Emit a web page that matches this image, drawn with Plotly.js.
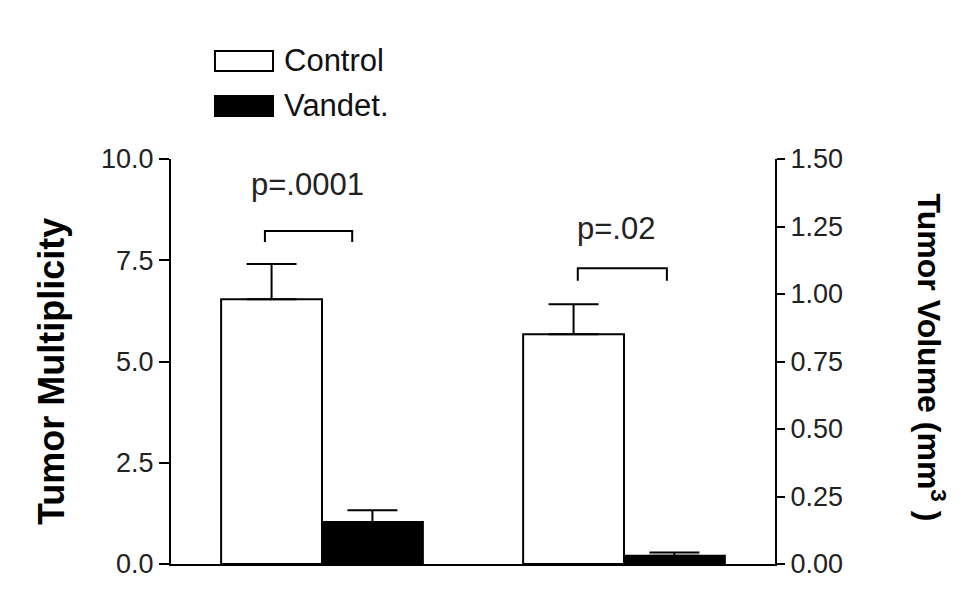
<!DOCTYPE html>
<html>
<head>
<meta charset="utf-8">
<script src="https://cdn.plot.ly/plotly-3.0.1.min.js"></script>
<style>html,body{margin:0;padding:0;background:#fff;}#chart{width:973px;height:600px;}</style>
</head>
<body>
<div id="chart"></div>
<script>
// ---- data ----
const groups = [0, 1];                 // 0: Tumor Multiplicity (left axis), 1: Tumor Volume (right axis)
const seriesNames = ["Control", "Vandet."];
const multControl = 6.54, multControlErr = 0.87;
const multVandet = 1.04, multVandetErr = 0.29;
const volControl = 0.851, volControlErr = 0.111;
const volVandet = 0.031, volVandetErr = 0.012;
const leftTicks = [0, 2.5, 5, 7.5, 10];
const rightTicks = [0, 0.25, 0.5, 0.75, 1, 1.25, 1.5];
const pLabels = ["p=.0001", "p=.02"];
// bracket definitions: [x0, x1, yTop, yDrop]
const bracket1 = [-0.189, 0.10, 8.22, 7.95];
const bracket2 = [0.847, 1.142, 1.095, 1.049];

const FONT = '"Liberation Sans", Arial, Helvetica, sans-serif';
const BW = 0.334;

function barTrace(name, x, y, err, yaxis, fill, offset) {
  return {
    type: 'bar', name: name, x: [x], y: [y], yaxis: yaxis,
    width: BW, offset: offset,
    marker: {color: fill, line: {color: '#000', width: 2}},
    error_y: {type: 'data', symmetric: false, array: [err], arrayminus: [0],
              color: '#000', thickness: 2, width: 25},
    showlegend: false, hoverinfo: 'skip'
  };
}

const traces = [
  barTrace(seriesNames[0], groups[0], multControl, multControlErr, 'y', '#fff', -BW),
  barTrace(seriesNames[1], groups[0], multVandet, multVandetErr, 'y', '#000', 0),
  barTrace(seriesNames[0], groups[1], volControl, volControlErr, 'y2', '#fff', -BW),
  barTrace(seriesNames[1], groups[1], volVandet, volVandetErr, 'y2', '#000', 0)
];

function bracketShape(b, yref) {
  return {type: 'path', xref: 'x', yref: yref,
    path: `M${b[0]},${b[3]} L${b[0]},${b[2]} L${b[1]},${b[2]} L${b[1]},${b[3]}`,
    line: {color: '#000', width: 2}};
}

const layout = {
  width: 973, height: 600,
  margin: {l: 171, r: 198, t: 159, b: 36, pad: 0},
  paper_bgcolor: '#fff', plot_bgcolor: '#fff',
  font: {family: FONT, color: '#111', size: 27},
  barmode: 'overlay',
  showlegend: false,
  xaxis: {range: [-0.5, 1.5], showline: true, linecolor: '#000', linewidth: 2,
          showticklabels: false, ticks: '', showgrid: false, zeroline: false, fixedrange: true},
  yaxis: {range: [0, 10], tickvals: leftTicks, tickformat: '.1f', ticks: 'outside', ticklen: 10,
          tickwidth: 2, tickcolor: '#000', showline: true, linecolor: '#000', linewidth: 2,
          showgrid: false, zeroline: false, tickfont: {size: 27, family: FONT, color: '#222'}},
  yaxis2: {range: [0, 1.5], tickvals: rightTicks, tickformat: '.2f', overlaying: 'y', side: 'right',
           ticks: 'outside', ticklen: 8, tickwidth: 2, tickcolor: '#000', showline: true,
           linecolor: '#000', linewidth: 2, showgrid: false, zeroline: false,
           tickfont: {size: 27, family: FONT, color: '#222'}},
  shapes: [
    bracketShape(bracket1, 'y'),
    bracketShape(bracket2, 'y2'),
    {type: 'rect', xref: 'paper', yref: 'paper', x0: 0.0728, x1: 0.1689, y0: 1.2173, y1: 1.2667,
     line: {color: '#000', width: 2}, fillcolor: '#fff'},
    {type: 'rect', xref: 'paper', yref: 'paper', x0: 0.0728, x1: 0.1689, y0: 1.1062, y1: 1.1556,
     line: {color: '#000', width: 2}, fillcolor: '#000'}
  ],
  annotations: [
    {text: seriesNames[0], xref: 'paper', yref: 'paper', x: 0.183, y: 1.244, xanchor: 'left', yanchor: 'middle',
     showarrow: false, font: {size: 31, family: FONT, color: '#111'}},
    {text: seriesNames[1], xref: 'paper', yref: 'paper', x: 0.183, y: 1.133, xanchor: 'left', yanchor: 'middle',
     showarrow: false, font: {size: 31, family: FONT, color: '#111'}},
    {text: pLabels[0], xref: 'x', yref: 'y', x: -0.048, y: 9.36, xanchor: 'center', yanchor: 'middle',
     showarrow: false, font: {size: 31, family: FONT, color: '#222'}},
    {text: pLabels[1], xref: 'x', yref: 'y2', x: 0.9725, y: 1.244, xanchor: 'center', yanchor: 'middle',
     showarrow: false, font: {size: 31, family: FONT, color: '#222'}},
    {text: '<b>Tumor Multiplicity</b>', xref: 'paper', yref: 'paper', x: -0.198, y: 0.475,
     xanchor: 'center', yanchor: 'middle', textangle: -90, showarrow: false,
     font: {size: 36, family: FONT, color: '#000'}},
    {text: '<b>Tumor Volume (mm<sup>3</sup> )</b>', xref: 'paper', yref: 'paper', x: 1.258, y: 0.51,
     xanchor: 'center', yanchor: 'middle', textangle: 90, showarrow: false,
     font: {size: 32, family: FONT, color: '#000'}}
  ]
};

Plotly.newPlot('chart', traces, layout, {staticPlot: true, displayModeBar: false});
</script>
</body>
</html>
